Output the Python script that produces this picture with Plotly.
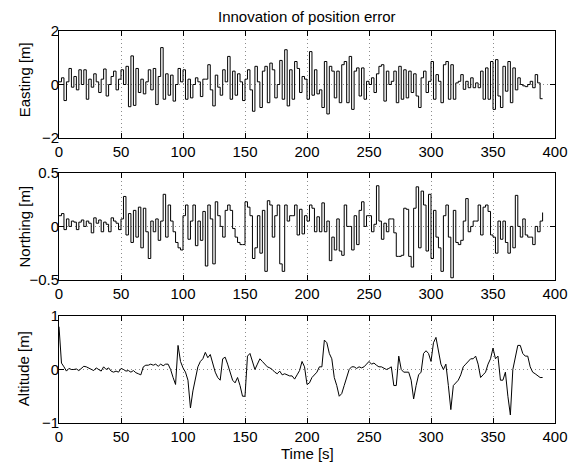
import plotly.graph_objects as go

# time grid (s), 2 s spacing
time_s = [2 * i for i in range(196)]

easting = [
 0.1, 0.25, -0.6, 0.1, 0.6, -0.1, 0.3, -0.2, 0.55, 0.0,
 0.55, -0.55, 0.2, -0.1, 0.4, 0.1, -0.3, 0.2, 0.58, -0.43,
 0.0, 0.3, 0.5, -0.2, 0.2, 0.55, 0.0, 0.68, -0.83, 1.07,
 -0.78, 0.6, -0.3, 0.2, -0.35, 0.1, 0.55, -0.2, 0.6, -0.75,
 0.3, 1.38, -0.55, 0.4, -0.4, 0.35, -0.62, 0.0, 0.6, 0.1,
 0.55, -0.55, 0.2, -0.5, 0.0, 0.25, 0.1, -0.45, 0.2, 0.2,
 0.74, -0.2, -0.8, 0.35, -0.1, -0.4, 0.55, 0.1, 1.05, -0.55,
 0.5, -0.4, 0.4, 0.1, -0.6, 0.2, 0.55, -0.2, -1.0, 0.68,
 0.1, -0.86, 0.5, 0.68, -0.68, 0.8, 0.55, -0.5, 0.0, 0.9,
 -0.55, 1.3, -0.8, 0.55, -0.55, 0.86, 0.6, -0.3, 0.3, 0.2,
 -0.55, 1.23, -0.4, 0.55, -0.35, -0.2, -0.86, 0.86, -1.1, 0.68,
 0.5, -0.5, 0.5, -0.68, 0.74, 0.86, -0.68, 1.05, -0.93, 0.5,
 0.62, -0.43, 0.62, -0.55, 0.12, 0.0, 0.25, -0.3, 0.4, 0.68,
 0.74, -0.62, 0.5, 0.0, 0.12, 0.5, -0.68, 0.68, -0.55, 0.55,
 -0.5, 0.5, -0.3, 0.4, -0.43, -0.86, 0.25, 0.5, -0.3, 0.12,
 0.86, -0.55, 0.37, 0.12, -0.68, 0.74, 0.86, -0.55, 0.74, -0.55,
 0.06, 0.12, 0.37, -0.18, 0.12, -0.12, 0.25, -0.12, 0.06, -0.12,
 0.5, -0.55, 0.62, -0.55, 0.86, -0.93, 0.93, -0.43, -0.86, 0.68,
 -0.25, 0.86, -0.68, 0.62, -0.2, 0.25, 0.0, -0.05, -0.08, 0.0,
 0.12, -0.12, 0.37, 0.06, -0.53, -0.53,
]

northing = [
 0.1, 0.12, -0.03, 0.07, 0.0, 0.05, 0.04, -0.03, 0.04, 0.06,
 0.0, 0.05, 0.03, -0.06, 0.08, 0.03, 0.06, -0.05, 0.04, 0.02,
 -0.05, 0.08, 0.05, 0.03, -0.03, 0.07, 0.28, -0.08, 0.12, -0.15,
 0.15, -0.1, 0.18, -0.2, 0.17, -0.05, -0.3, 0.05, -0.05, 0.07,
 -0.13, 0.05, 0.3, -0.1, 0.2, 0.05, -0.05, -0.15, -0.2, -0.22,
 0.1, 0.2, -0.12, 0.05, 0.2, -0.18, 0.05, -0.13, 0.14, -0.37,
 0.2, 0.07, -0.35, 0.23, 0.1, 0.0, -0.1, 0.15, 0.2, 0.15,
 -0.02, -0.1, -0.15, -0.17, -0.17, 0.23, 0.18, 0.1, -0.3, -0.2,
 0.1, -0.25, 0.15, -0.42, 0.24, 0.2, -0.1, 0.1, 0.2, -0.35,
 -0.42, 0.2, 0.05, 0.1, 0.1, 0.2, -0.08, 0.16, -0.07, 0.1,
 0.05, 0.2, 0.17, -0.05, 0.09, -0.05, 0.22, -0.05, 0.05, -0.32,
 -0.1, -0.22, 0.07, -0.23, -0.27, 0.2, 0.0, 0.0, -0.22, 0.1,
 -0.17, 0.15, 0.23, 0.0, 0.1, 0.1, -0.05, 0.02, 0.38, 0.05,
 -0.12, 0.03, -0.05, 0.07, 0.07, -0.06, -0.28, -0.28, -0.27, 0.17,
 0.16, -0.28, -0.38, 0.17, 0.37, -0.2, 0.33, 0.2, -0.23, 0.3,
 -0.3, 0.15, -0.1, -0.2, -0.42, 0.1, 0.2, -0.1, -0.48, 0.15,
 -0.15, -0.17, -0.13, 0.05, 0.26, -0.05, 0.0, 0.05, 0.05, 0.2,
 -0.08, 0.18, 0.2, 0.14, -0.08, -0.1, -0.25, 0.05, -0.12, 0.05,
 -0.15, -0.25, 0.0, -0.2, 0.29, 0.0, -0.1, 0.07, -0.08, -0.1,
 -0.1, -0.17, 0.0, -0.05, 0.05, 0.13,
]

altitude = [
 0.8, 0.12, 0.05, -0.03, 0.02, 0.0, 0.0, 0.01, -0.02, 0.03,
 0.06, 0.05, 0.03, 0.0, -0.02, 0.03, 0.0, -0.03, 0.05, 0.0,
 0.03, -0.03, -0.05, -0.03, -0.05, 0.02, 0.0, -0.03, -0.02, -0.05,
 -0.02, -0.06, -0.08, -0.1, 0.05, 0.08, 0.08, 0.1, 0.08, 0.1,
 0.06, 0.1, 0.07, 0.1, 0.1, 0.0, -0.15, -0.28, 0.45, 0.15,
 0.03, -0.05, -0.2, -0.72, -0.4, -0.2, 0.05, 0.15, 0.2, 0.32,
 0.22, 0.28, 0.1, -0.05, -0.15, -0.2, 0.2, 0.23, 0.1, -0.05,
 -0.2, -0.25, -0.15, -0.3, -0.5, -0.5, 0.25, 0.3, 0.15, 0.0,
 0.1, 0.2, 0.15, 0.1, 0.05, 0.03, 0.0, -0.05, -0.08, -0.03,
 -0.1, -0.08, -0.1, -0.12, -0.12, -0.18, -0.1, -0.02, 0.15, 0.05,
 -0.28, -0.25, -0.15, -0.1, -0.05, 0.05, 0.05, 0.55, 0.5, 0.3,
 0.2, -0.15, -0.3, -0.5, -0.45, -0.3, -0.15, 0.0, 0.05, 0.05,
 0.02, 0.05, 0.03, 0.05, 0.1, 0.15, 0.1, 0.12, 0.08, 0.05,
 0.05, 0.03, 0.0, 0.02, 0.05, -0.3, -0.3, 0.25, 0.0, -0.05,
 -0.05, -0.05, -0.2, -0.55, -0.3, -0.1, -0.05, 0.3, 0.35, 0.3,
 0.15, 0.5, 0.6, 0.35, 0.1, 0.0, 0.1, -0.3, -0.75, -0.3,
 -0.25, -0.2, -0.1, 0.05, 0.1, 0.15, 0.2, 0.2, 0.25, 0.1,
 -0.15, -0.1, -0.05, 0.1, 0.2, 0.4, 0.2, 0.25, -0.2, -0.2,
 -0.05, -0.5, -0.85, 0.0, 0.2, 0.45, 0.45, 0.3, 0.25, 0.25,
 0.05, -0.05, -0.08, -0.12, -0.15, -0.15,
]

x_ticks = [0, 50, 100, 150, 200, 250, 300, 350, 400]
y_ranges = [[-2, 2], [-0.5, 0.5], [-1, 1]]
y_ticks = [[-2, 0, 2], [-0.5, 0, 0.5], [-1, 0, 1]]
y_titles = ["Easting [m]", "Northing [m]", "Altitude [m]"]
series = [easting, northing, altitude]
line_shapes = ["hv", "hv", "linear"]

FONT = "Liberation Sans, Arial, Helvetica, sans-serif"
# plot area is 499 x 392 px; page body has an 8 px margin
domains = [[0.727, 1.0], [0.365, 0.638], [0.0, 0.273]]
label_y = [0.875, 0.502, 0.138]

fig = go.Figure()
for k in range(3):
    ax = "" if k == 0 else str(k + 1)
    fig.add_trace(go.Scatter(
        x=time_s, y=series[k], mode="lines",
        line=dict(color="black", width=1, shape=line_shapes[k]),
        xaxis="x" + ax, yaxis="y" + ax, showlegend=False, hoverinfo="skip"))
    common = dict(showline=True, linecolor="black", linewidth=1, mirror="ticks",
                  ticks="inside", ticklen=5, tickcolor="black", tickwidth=1,
                  showgrid=True, gridcolor="#8c8c8c", griddash="1px,3px", gridwidth=1,
                  zeroline=False, tickfont=dict(family=FONT, size=15, color="black"))
    fig.update_layout(**{
        "xaxis" + ax: dict(domain=[0, 1], range=[0, 400], tickvals=x_ticks,
                           anchor="y" + ax, **common),
        "yaxis" + ax: dict(domain=domains[k], range=y_ranges[k], tickvals=y_ticks[k],
                           anchor="x" + ax, ticklabelstandoff=-4, **common),
    })
    fig.add_annotation(text=y_titles[k], textangle=-90, xref="paper", yref="paper",
                       x=-0.070, y=label_y[k],
                       xanchor="center", yanchor="middle", showarrow=False,
                       font=dict(family=FONT, size=15, color="black"))

fig.add_annotation(text="Innovation of position error", xref="paper", yref="paper",
                   x=0.5, y=1.037, xanchor="center", yanchor="middle", showarrow=False,
                   font=dict(family=FONT, size=15, color="black"))
fig.add_annotation(text="Time [s]", xref="paper", yref="paper",
                   x=0.5, y=-0.079, xanchor="center", yanchor="middle", showarrow=False,
                   font=dict(family=FONT, size=15, color="black"))

fig.update_layout(width=572, height=456, margin=dict(l=51, r=22, t=23, b=41),
                  paper_bgcolor="white", plot_bgcolor="white", showlegend=False)
fig.write_html("out.html")
